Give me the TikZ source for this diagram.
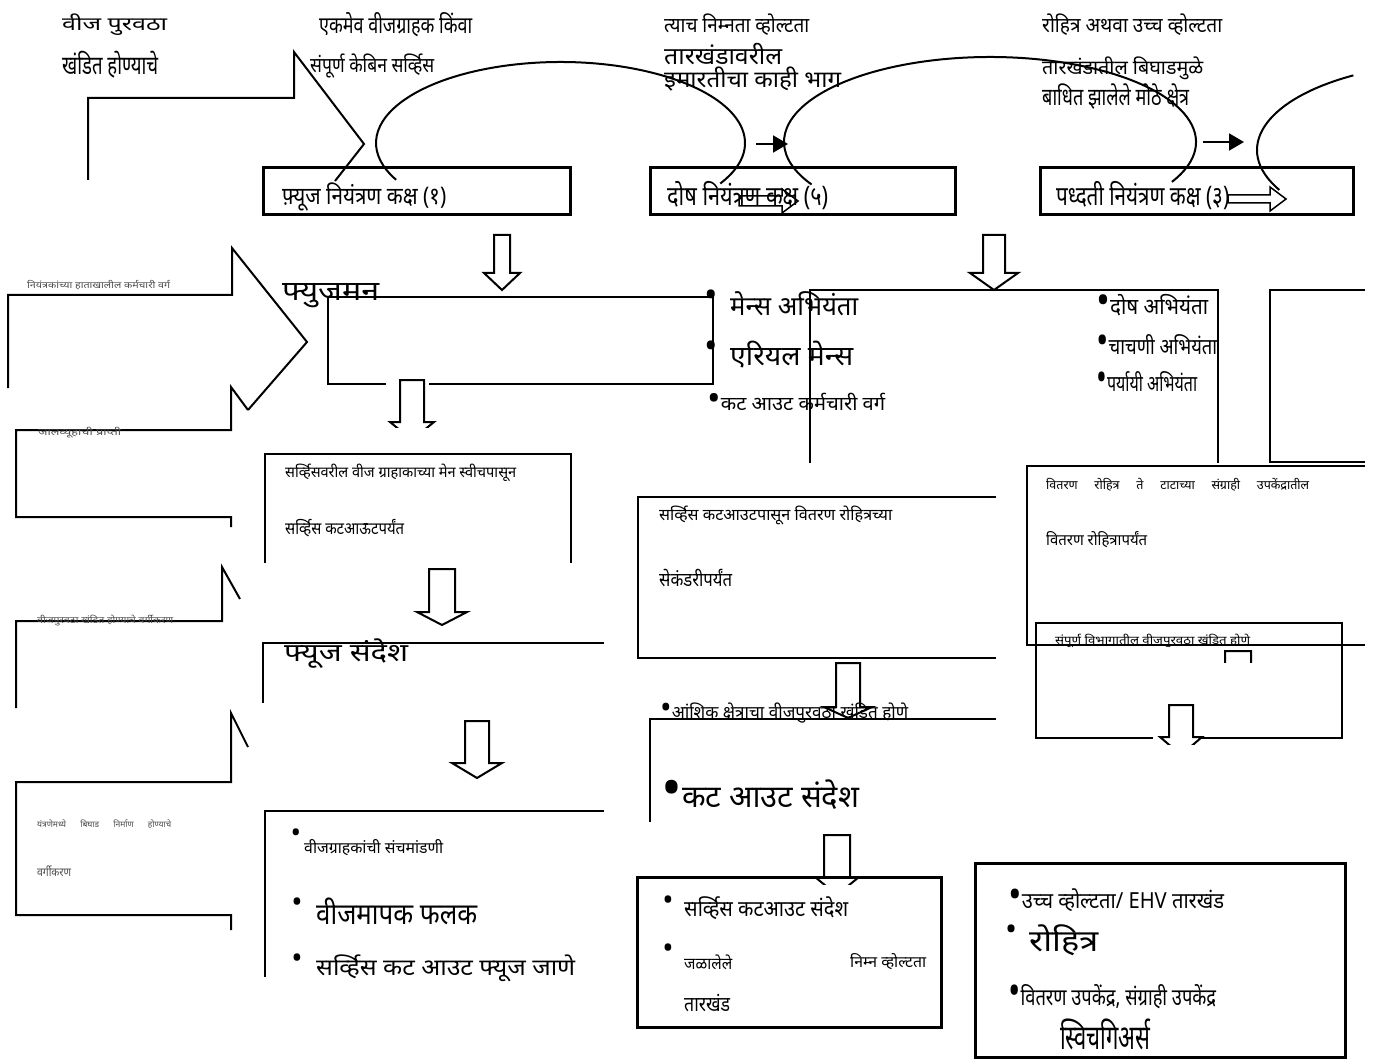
\documentclass[tikz,border=0pt]{standalone}
\usepackage{fontspec}
\usepackage{graphicx}
\newfontfamily\dev[Script=Devanagari]{Noto Sans}
\usetikzlibrary{arrows.meta}
\newcommand\tx[3]{\resizebox*{#1pt}{\dimexpr #2pt*27/20\relax}{\dev #3}}
\newcommand\jt[3]{\makebox[#1pt][s]{\dev\fontsize{#2}{#2}\selectfont #3}}
\newcommand\bu[1]{{\dev\fontsize{#1}{#1}\selectfont •}}
\newcommand\ib{\scalebox{1.8}{•}}
\newcommand\darr[6]{\filldraw[dar] ({#1-#5},#2) -- ({#1+#5},#2) -- ({#1+#5},#3) -- ({#1+#6},#3) -- (#1,#4) -- ({#1-#6},#3) -- ({#1-#5},#3) -- cycle;}
\newcommand\rarr[6]{\draw[line width=1.5pt] (#1,{#2-#5}) -- (#3,{#2-#5}) -- (#3,{#2-#6}) -- (#4,#2) -- (#3,{#2+#6}) -- (#3,{#2+#5}) -- (#1,{#2+#5}) -- cycle;}
\tikzset{
 ln/.style={line width=2pt},
 bx/.style={line width=3pt},
 lbl/.style={anchor=west, inner sep=0pt},
 tinylbl/.style={lbl, text=black!70},
 dar/.style={fill=white, line width=2pt},
 bul/.style={anchor=center, inner sep=0pt},
 blk/.style={line width=2pt,-{Triangle[length=15pt,width=17pt]}},
}
\begin{document}
\begin{tikzpicture}[x=1pt,y=-1pt,line join=miter]
\useasboundingbox (0,0) rectangle (1387,1059);
\fill[white] (0,0) rectangle (1387,1059);

% arcs
\draw[ln] ([shift={(30:184.5 and 81)}]560.5,143) arc[start angle=30,end angle=-207,x radius=184.5,y radius=81];
\draw[ln] ([shift={(28:206 and 85)}]990,142) arc[start angle=28,end angle=-210,x radius=206,y radius=85];
\draw[ln] ([shift={(-122:205 and 88)}]1462,150) arc[start angle=-122,end angle=-207,x radius=205,y radius=88];

% small black arrows
\coordinate (s1) at (756,144); \coordinate (e1) at (788,144);
\coordinate (s2) at (1203,142); \coordinate (e2) at (1244,142);
\draw[blk] (s1) -- (e1);
\draw[blk] (s2) -- (e2);

% bent arrows
\draw[ln] (88,180) -- (88,98) -- (294,98) -- (294,52) -- (364,144) -- (335,181);
\draw[ln] (8,388) -- (8,295) -- (232,295) -- (232,248) -- (307,342) -- (248,410);
\draw[ln] (231,527) -- (231,517) -- (16,517) -- (16,430) -- (231,430) -- (231,387) -- (248,410);
\draw[ln] (16,708) -- (16,621) -- (222,621) -- (222,567) -- (240,599);
\draw[ln] (231,930) -- (231,915) -- (16,915) -- (16,782) -- (231,782) -- (231,713) -- (248,747);

% title boxes
\draw[bx] (263,168) rectangle (570,215);
\draw[bx] (650,168) rectangle (955,215);
\draw[bx] (1040,168) rectangle (1353,215);
\rarr{739}{201}{782}{798}{5}{12}
\rarr{1228}{199}{1270}{1286}{4}{12}

% open boxes
\draw[ln] (386,384) -- (328,384) -- (328,297) -- (713,297) -- (713,384) -- (429,384);
\draw[ln] (810,463) -- (810,290) -- (1218,290) -- (1218,463);
\draw[ln] (1365,290) -- (1270,290) -- (1270,462) -- (1365,462);
\draw[ln] (265,563) -- (265,454) -- (571,454) -- (571,563);
\draw[ln] (604,643) -- (263,643) -- (263,703);
\draw[ln] (604,811) -- (265,811) -- (265,977);
\draw[ln] (996,497) -- (638,497) -- (638,658) -- (996,658);
\draw[ln] (996,719) -- (650,719) -- (650,822);
\draw[ln] (1365,466) -- (1027,466) -- (1027,645) -- (1365,645);
\draw[ln] (1153,738) -- (1036,738) -- (1036,623) -- (1342,623) -- (1342,738) -- (1198,738);

% down arrows
\darr{502}{235}{273}{290}{8}{18}
\darr{994}{235}{273}{290}{11}{24}
\begin{scope}\clip (380,370) rectangle (440,427); \darr{412}{380}{422}{440}{12}{22} \end{scope}
\darr{442}{569}{612}{625}{13}{25}
\darr{477}{721}{763}{778}{12}{25}
\darr{848}{663}{707}{718}{12}{24}
\begin{scope}\clip (800,825) rectangle (870,884); \darr{837}{835}{877}{895}{13}{22} \end{scope}
\begin{scope}\clip (1210,645) rectangle (1265,662); \darr{1238}{651}{690}{700}{13}{22} \end{scope}
\begin{scope}\clip (1150,700) rectangle (1205,744); \darr{1181}{705}{737}{755}{12}{21} \end{scope}

% bottom boxes
\draw[bx] (637,877) rectangle (941,1027);
\draw[bx] (975,863) rectangle (1345,1057);

% texts
\node[lbl] (t1) at (62,25) {\tx{105}{16}{वीज पुरवठा}};
\node[lbl] (t2) at (62,65) {\tx{96}{20}{खंडित होण्याचे}};
\node[lbl] (t3) at (319,25) {\tx{153}{18}{एकमेव वीजग्राहक किंवा}};
\node[lbl] (t4) at (310,66) {\tx{124}{18}{संपूर्ण केबिन सर्व्हिस}};
\node[lbl] (t5) at (282,197) {\tx{164}{21}{फ़्यूज नियंत्रण कक्ष (१)}};
\node[lbl] (t6) at (282,296) {\tx{97}{18}{फ्युजमन}};
\node[tinylbl] (t7) at (27,285) {\tx{143}{7}{नियंत्रकांच्या हाताखालील कर्मचारी वर्ग}};
\node[tinylbl] (t8) at (38,433) {\tx{83}{8}{जालव्यूहाची प्राप्ती}};
\node[lbl] (t9) at (664,25) {\tx{145}{16}{त्याच निम्नता व्होल्टता}};
\node[lbl] (t10) at (664,54) {\tx{118}{16}{तारखंडावरील}};
\node[lbl] (t11) at (664,79) {\tx{177}{18}{इमारतीचा काही भाग}};
\node[lbl] (t12) at (1042,25) {\tx{180}{16}{रोहित्र अथवा उच्च व्होल्टता}};
\node[lbl] (t13) at (1042,68) {\tx{161}{17}{तारखंडातील बिघाडमुळे}};
\node[lbl] (t14) at (1042,97) {\tx{147}{19}{बाधित झालेले मोठे क्षेत्र}};
\node[lbl] (t15) at (667,196) {\tx{161}{21}{दोष नियंत्रण कक्ष (५)}};
\node[lbl] (t16) at (1056,196) {\tx{173}{21}{पध्दती नियंत्रण कक्ष (३)}};
\node[bul] (b17) at (711,299) {\bu{36}};
\node[lbl] (t17) at (730,304) {\tx{128}{18}{मेन्स अभियंता}};
\node[bul] (b18) at (711,350) {\bu{36}};
\node[lbl] (t18) at (730,355) {\tx{123}{20}{एरियल मेन्स}};
\node[lbl] (t19) at (707,402) {\tx{178}{13}{\ib कट आउट कर्मचारी वर्ग}};
\node[lbl] (t20) at (1096,305) {\tx{112}{16}{\ib दोष अभियंता}};
\node[lbl] (t21) at (1096,345) {\tx{121}{15}{\ib चाचणी अभियंता}};
\node[lbl] (t22) at (1096,382) {\tx{101}{15}{\ib पर्यायी अभियंता}};
\node[lbl] (t23) at (285,473) {\tx{231}{13}{सर्व्हिसवरील वीज ग्राहाकाच्या मेन स्वीचपासून}};
\node[lbl] (t24) at (285,528) {\tx{119}{13}{सर्व्हिस कटआऊटपर्यंत}};
\node[tinylbl] (t25) at (37,621) {\tx{136}{8}{वीजपुरवठा खंडित होण्याचे वर्गीकरण}};
\node[lbl] (t26) at (284,654) {\tx{124}{22}{फ्यूज संदेश}};
\node[tinylbl] (t27) at (37,824) {\jt{134}{8.5}{यंत्रणेमध्ये बिघाड निर्माण होण्याचे}};
\node[tinylbl] (t28) at (37,871) {\tx{34}{8}{वर्गीकरण}};
\node[bul] (b29) at (296,836) {\bu{28}};
\node[lbl] (t29) at (304,848) {\tx{139}{12}{वीजग्राहकांची संचमांडणी}};
\node[bul] (b30) at (297,905) {\bu{30}};
\node[lbl] (t30) at (316,911) {\tx{161}{20}{वीजमापक फलक}};
\node[bul] (b31) at (297,961) {\bu{30}};
\node[lbl] (t31) at (316,968) {\tx{259}{20}{सर्व्हिस कट आउट फ्यूज जाणे}};
\node[lbl] (t32) at (1046,485) {\jt{263}{12.5}{वितरण रोहित्र ते टाटाच्या संग्राही उपकेंद्रातील}};
\node[lbl] (t33) at (1046,540) {\tx{101}{12}{वितरण रोहित्रापर्यंत}};
\node[lbl] (t34) at (659,515) {\tx{233}{14}{सर्व्हिस कटआउटपासून वितरण रोहित्रच्या}};
\node[lbl] (t35) at (659,578) {\tx{73}{13}{सेकंडरीपर्यंत}};
\node[lbl] (t36) at (1055,641) {\tx{195}{10}{संपूर्ण विभागातील वीजपुरवठा खंडित होणे}};
\node[lbl] (t37) at (660,713) {\tx{248}{15}{\ib आंशिक क्षेत्राचा वीजपुरवठा खंडित होणे}};
\node[lbl] (t38) at (661,795) {\tx{198}{22}{\ib कट आउट संदेश}};
\node[bul] (b39) at (668,903) {\bu{30}};
\node[lbl] (t39) at (684,908) {\tx{164}{17}{सर्व्हिस कटआउट संदेश}};
\node[bul] (b40) at (668,951) {\bu{30}};
\node[lbl] (t40) at (684,962) {\tx{48}{11}{जळालेले}};
\node[lbl] (t41) at (850,962) {\tx{76}{12}{निम्न व्होल्टता}};
\node[lbl] (t42) at (684,1003) {\tx{46}{13}{तारखंड}};
\node[lbl] (t43) at (1008,900) {\tx{216}{17}{\ib उच्च व्होल्टता/ EHV तारखंड}};
\node[bul] (b44) at (1012,933) {\bu{32}};
\node[lbl] (t44) at (1029,940) {\tx{69}{23}{रोहित्र}};
\node[lbl] (t45) at (1008,997) {\tx{208}{18}{\ib वितरण उपकेंद्र, संग्राही उपकेंद्र}};
\node[lbl] (t46) at (1060,1034) {\tx{90}{23}{स्विचगिअर्स}};
\end{tikzpicture}
\end{document}
